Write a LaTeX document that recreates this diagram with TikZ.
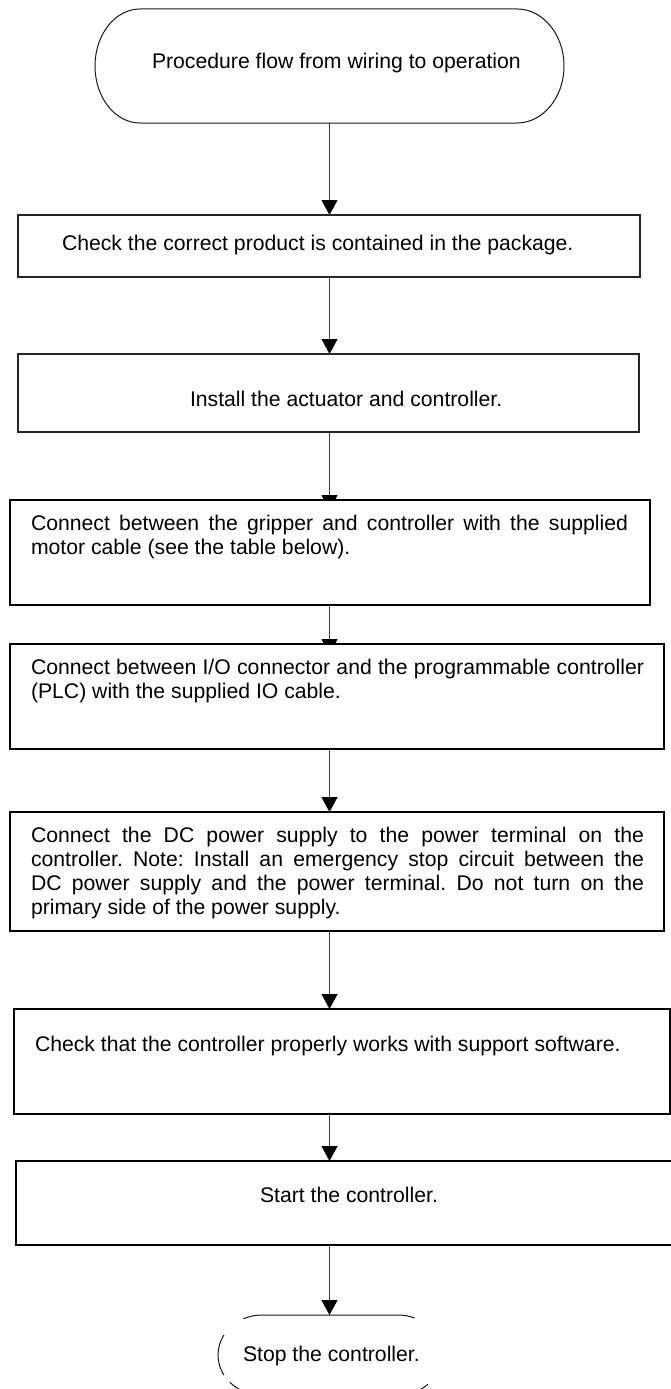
\documentclass[tikz,border=0pt]{standalone}
\usepackage{fontspec}
\setmainfont{Liberation Sans}
\usetikzlibrary{arrows.meta,backgrounds}
\pgfdeclarelayer{paper}
\pgfsetlayers{paper,background,main}
\hyphenpenalty=10000
\exhyphenpenalty=10000
\tolerance=9999
\frenchspacing

\tikzset{
  txt/.style={inner sep=0pt, outer sep=0pt, font=\fontsize{21.2}{24.3}\selectfont, text=black},
  para/.style={txt, text width=#1, align=justify},
  thinbox/.style={draw=black!85, line width=1.2pt, fill=white, inner sep=0pt, outer sep=0pt, anchor=north west},
  boldbox/.style={draw=black, line width=2pt, fill=white, inner sep=0pt, outer sep=0pt, anchor=north west},
  outline/.style={draw=black!90, line width=1pt},
  flow/.style={draw=black!75, line width=1pt, -{Triangle[length=15pt, width=16pt, color=black, fill=black]}},
}

\begin{document}
\begin{tikzpicture}[x=1pt, y=1pt]
\useasboundingbox (0,0) rectangle (671,-1389);
\clip (0,0) rectangle (671,-1389);
\begin{pgfonlayer}{paper}
  \fill[white] (0,0) rectangle (671,-1389);
\end{pgfonlayer}

% vertical axis of the flow
\coordinate (axis) at (329.5,0);

% start terminator
\node[txt, minimum width=469pt, minimum height=114pt] (start) at (329.5,-66) {};
\draw[outline] (140,-9) -- (517,-9)
  arc[start angle=90, end angle=-90, x radius=47, y radius=57]
  -- (140,-123)
  arc[start angle=270, end angle=90, x radius=45, y radius=57] -- cycle;
\node[txt, anchor=base west] (title) at (152,-69) {Procedure flow from wiring to operation};

% process boxes
\node[thinbox, minimum width=622pt, minimum height=62pt] (b1) at (18,-215) {};
\node[thinbox, minimum width=621pt, minimum height=78pt] (b2) at (18,-354) {};
\node[boldbox, minimum width=640pt, minimum height=105pt] (b3) at (10,-500) {};
\node[boldbox, minimum width=654pt, minimum height=105pt] (b4) at (10,-644) {};
\node[boldbox, minimum width=654pt, minimum height=119pt] (b5) at (10,-812) {};
\node[boldbox, minimum width=656pt, minimum height=105pt] (b6) at (14,-1009) {};
\node[boldbox, minimum width=684pt, minimum height=84pt] (b7) at (16,-1161) {};

% box texts
\node[txt, anchor=base west] (t1) at (62,-250.5) {Check the correct product is contained in the package.};
\node[txt, anchor=base west] (t2) at (190,-406) {Install the actuator and controller.};
\node[para=597pt, anchor=base west] (t3) at (31,-530)
  {Connect between the gripper and controller with the supplied\linebreak motor cable (see the table below).};
\node[para=613pt, anchor=base west] (t4) at (31,-674)
  {Connect between I/O connector and the programmable controller\linebreak (PLC) with the supplied IO cable.};
\node[para=613pt, anchor=base west] (t5) at (31,-842)
  {Connect the DC power supply to the power terminal on the\linebreak controller. Note: Install an emergency stop circuit between the\linebreak DC power supply and the power terminal. Do not turn on the\linebreak primary side of the power supply.};
\node[txt, anchor=base west] (t6) at (35,-1051) {Check that the controller properly works with support software.};
\node[txt, anchor=base west] (t7) at (260,-1202.7) {Start the controller.};

% end terminator (outline drawn in broken pieces)
\node[txt, minimum width=224pt, minimum height=80pt] (stop) at (330,-1355) {};
\draw[outline] (262,-1355) ++(115:44 and 40) arc[start angle=115, end angle=90, x radius=44, y radius=40]
  -- (398,-1315) arc[start angle=90, end angle=68, x radius=44, y radius=40];
\draw[outline] (262,-1355) ++(150:44 and 40) arc[start angle=150, end angle=210, x radius=44, y radius=40];
\draw[outline] (262,-1355) ++(223:44 and 40) arc[start angle=223, end angle=248, x radius=44, y radius=40];
\draw[outline] (398,-1355) ++(-47:44 and 40) arc[start angle=-47, end angle=-68, x radius=44, y radius=40];
\node[txt, anchor=base west] (t8) at (243,-1361.7) {Stop the controller.};

% connectors, kept behind the boxes
\begin{scope}[on background layer]
  \draw[flow] (start.south -| axis) -- (b1.north -| axis);
  \draw[flow] (b1.south -| axis) -- (b2.north -| axis);
  \draw[flow, shorten >=-10pt] (b2.south -| axis) -- (b3.north -| axis);
  \draw[flow, shorten >=-10pt] (b3.south -| axis) -- (b4.north -| axis);
  \draw[flow] (b4.south -| axis) -- (b5.north -| axis);
  \draw[flow] (b5.south -| axis) -- (b6.north -| axis);
  \draw[flow] (b6.south -| axis) -- (b7.north -| axis);
  \draw[flow] (b7.south -| axis) -- (stop.north -| axis);
\end{scope}
\end{tikzpicture}
\end{document}
